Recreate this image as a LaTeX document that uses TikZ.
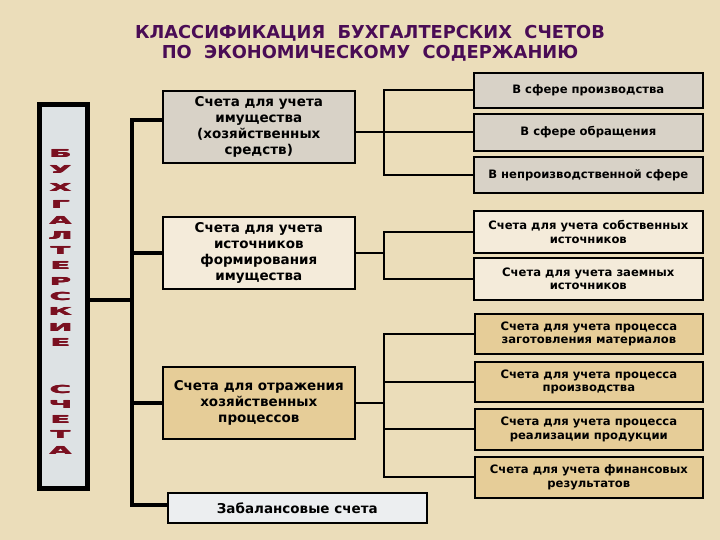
\documentclass[tikz,border=0pt]{standalone}
\usepackage{fontspec}
\setmainfont{DejaVu Sans}
\usepackage{graphicx}
\definecolor{bgc}{HTML}{EBDDBA}
\definecolor{greyf}{HTML}{D8D2C7}
\definecolor{creamf}{HTML}{F4EBDA}
\definecolor{tanf}{HTML}{E6CD98}
\definecolor{whitef}{HTML}{ECEEF0}
\definecolor{marble}{HTML}{DDE2E4}
\definecolor{titlec}{HTML}{4A0C55}
\definecolor{letterc}{HTML}{7A1020}
\newcommand{\fatletter}[1]{\scalebox{2.6}[1.0]{\rlap{#1}\hspace{0.25pt}\rlap{#1}\hspace{0.25pt}#1}}
\begin{document}
\begin{tikzpicture}[x=1pt,y=-1pt,
  box/.style={draw=black, line width=1.6pt, align=center, inner sep=0pt, anchor=north west,
    font=\bfseries\fontsize{11.6}{13.5}\selectfont},
  bigbox/.style={box, font=\bfseries\fontsize{13.5}{16}\selectfont},
  trunk/.style={line width=4pt, line join=miter},
  link/.style={line width=1.8pt, line join=miter},
  vletter/.style={text=letterc, inner sep=0pt, font=\bfseries\fontsize{11}{11}\selectfont}]
\useasboundingbox (0,0) rectangle (720,540);
\fill[bgc] (0,0) rectangle (720,540);

\node[titlec, align=center, font=\bfseries\fontsize{17.8}{20}\selectfont] (title) at (370,43)
  {КЛАССИФИКАЦИЯ~~БУХГАЛТЕРСКИХ~~СЧЕТОВ\\ПО~~ЭКОНОМИЧЕСКОМУ~~СОДЕРЖАНИЮ};

% vertical box
\node[draw=black, line width=5pt, fill=marble, minimum width=48pt, minimum height=383pt,
  inner sep=0pt, anchor=north west] (V) at (36.5,102.5) {};
\foreach \l/\yy [count=\i] in {Б/153,У/169,Х/187,Г/204,А/220,Л/235,Т/250,Е/265,Р/281,С/296,К/311,И/327,Е/342,С/389,Ч/404,Е/419,Т/434,А/450}
  \node[vletter] (L\i) at (60.5,\yy) {\fatletter{\l}};

% level-1 boxes
\node[bigbox, fill=greyf, minimum width=192pt, minimum height=72pt] (B1) at (162,90)
  {Счета для учета\\имущества\\(хозяйственных\\средств)};
\node[bigbox, fill=creamf, minimum width=192pt, minimum height=72pt] (B2) at (162,216)
  {Счета для учета\\источников\\формирования\\имущества};
\node[bigbox, fill=tanf, minimum width=192pt, minimum height=72pt] (B3) at (162,366)
  {Счета для отражения\\хозяйственных\\процессов};
\node[bigbox, fill=whitef, minimum width=259pt, minimum height=30pt] (B4) at (167,492)
  {Забалансовые счета};

% level-2 boxes
\node[box, fill=greyf, minimum width=229pt, minimum height=35pt] (R1) at (473,72) {В сфере производства};
\node[box, fill=greyf, minimum width=229pt, minimum height=37pt] (R2) at (473,113) {В сфере обращения};
\node[box, fill=greyf, minimum width=229pt, minimum height=36pt] (R3) at (473,156) {В непроизводственной сфере};
\node[box, fill=creamf, minimum width=229pt, minimum height=42pt] (R4) at (473,210) {Счета для учета собственных\\источников};
\node[box, fill=creamf, minimum width=229pt, minimum height=42pt] (R5) at (473,257) {Счета для учета заемных\\источников};
\node[box, fill=tanf, minimum width=228pt, minimum height=40pt] (R6) at (474,313) {Счета для учета процесса\\заготовления материалов};
\node[box, fill=tanf, minimum width=228pt, minimum height=40pt] (R7) at (474,361) {Счета для учета процесса\\производства};
\node[box, fill=tanf, minimum width=228pt, minimum height=41pt] (R8) at (474,408) {Счета для учета процесса\\реализации продукции};
\node[box, fill=tanf, minimum width=228pt, minimum height=41pt] (R9) at (474,456) {Счета для учета финансовых\\результатов};

% main trunk
\coordinate (ta) at (132,120);
\coordinate (tm) at (132,300);
\coordinate (tb) at (132,505);
\draw[trunk] (B1.west |- ta) -- (ta) -- (tb) -- (B4.west |- tb);
\draw[trunk] (V.east |- tm) -- (tm);
\draw[trunk] (B2.west -| ta) -- (B2.west);
\draw[trunk] (B3.west -| ta) -- (B3.west);

% sub trunks
\coordinate (ga) at (384,89);
\draw[link] (R1.west) -- (R1.west -| ga) -- (R3.west -| ga) -- (R3.west);
\draw[link] (R2.west -| B1.east) -- (R2.west);
\draw[link] (R4.west) -- (R4.west -| ga) -- (R5.west -| ga) -- (R5.west);
\draw[link] (B2.east) -- (B2.east -| ga);
\draw[link] (R6.west) -- (R6.west -| ga) -- (R9.west -| ga) -- (R9.west);
\draw[link] (R7.west -| ga) -- (R7.west);
\draw[link] (R8.west -| ga) -- (R8.west);
\draw[link] (B3.east) -- (B3.east -| ga);
\end{tikzpicture}
\end{document}
